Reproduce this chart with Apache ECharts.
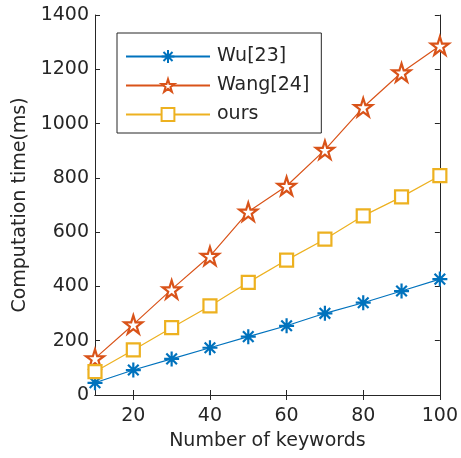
<!DOCTYPE html>
<html><head><meta charset="utf-8">
<script src="https://cdn.jsdelivr.net/npm/echarts@6/dist/echarts.min.js"></script>
<style>html,body{margin:0;padding:0;background:#fff}#c{width:461px;height:458px}</style>
</head><body><div id="c"></div>
<script>
const keywords = [10,20,30,40,50,60,70,80,90,100];
const wu   = [45,92,133,174,215,255,301,340,383,427];
const wang = [135,260,389,512,675,770,903,1060,1188,1287];
const ours = [86,166,248,328,415,497,574,660,730,808];
const xTicks = [20,40,60,80,100];
const yTicks = [0,200,400,600,800,1000,1200,1400];

const FONT = 'DejaVu Sans, Liberation Sans, sans-serif';
const AX = '#262626';
const STAR = 'path://M0,-1L0.2245,-0.309L0.951,-0.309L0.3633,0.118L0.5878,0.809L0,0.382L-0.5878,0.809L-0.3633,0.118L-0.951,-0.309L-0.2245,-0.309Z';
const AST = 'path://M0,-1L0,1M-1,0L1,0M-0.7071,-0.7071L0.7071,0.7071M-0.7071,0.7071L0.7071,-0.7071';

function pair(a){ return keywords.map((k,i)=>[k,a[i]]); }

const chart = echarts.init(document.getElementById('c'), null, {renderer:'canvas'});
const hiddenX = {type:'value',min:10,max:100,position:'top',
  axisLine:{show:true,lineStyle:{color:AX,width:1}},
  axisTick:{show:true,inside:true,length:5,customValues:xTicks,lineStyle:{color:AX}},
  axisLabel:{show:false},splitLine:{show:false}};
const hiddenY = {type:'value',min:0,max:1400,interval:200,position:'right',
  axisLine:{show:true,lineStyle:{color:AX,width:1}},
  axisTick:{show:true,inside:true,length:5,lineStyle:{color:AX}},
  axisLabel:{show:false},splitLine:{show:false}};
chart.setOption({
  animation:false,
  textStyle:{fontFamily:FONT},
  grid:{left:95,right:19,top:15,bottom:63,containLabel:false},
  legend:{
    left:117, top:33, orient:'vertical',
    padding:[14,12,9,8],
    backgroundColor:'#fff', borderColor:AX, borderWidth:1,
    itemWidth:84, itemHeight:16, itemGap:10,
    textStyle:{fontFamily:FONT,fontSize:19,color:AX,padding:[0,0,0,2]},
    data:['Wu[23]','Wang[24]','ours']
  },
  xAxis:[{
    type:'value',min:10,max:100,
    name:'Number of keywords',nameLocation:'middle',nameGap:37,
    nameTextStyle:{fontSize:19,color:AX,fontFamily:FONT},
    axisLine:{show:true,onZero:false,lineStyle:{color:AX,width:1}},
    axisTick:{show:true,inside:true,length:5,customValues:xTicks,lineStyle:{color:AX}},
    axisLabel:{customValues:xTicks,fontSize:19,color:AX,margin:12,fontFamily:FONT,formatter:v=>String(v)},
    splitLine:{show:false}
  }, hiddenX],
  yAxis:[{
    type:'value',min:0,max:1400,interval:200,
    name:'Computation time(ms)',nameLocation:'middle',nameGap:57,nameRotate:90,
    nameTextStyle:{fontSize:19,color:AX,fontFamily:FONT},
    axisLine:{show:true,onZero:false,lineStyle:{color:AX,width:1}},
    axisTick:{show:true,inside:true,length:5,lineStyle:{color:AX}},
    axisLabel:{fontSize:19,color:AX,margin:6,fontFamily:FONT,customValues:yTicks,formatter:v=>String(v)},
    splitLine:{show:false}
  }, hiddenY],
  series:[
    {name:'Wu[23]',type:'line',data:pair(wu),symbol:AST,symbolSize:15,
     lineStyle:{color:'#0072BD',width:1.2},
     itemStyle:{color:'#0072BD',borderColor:'#0072BD',borderWidth:2.2}},
    {name:'Wang[24]',type:'line',data:pair(wang),symbol:STAR,symbolSize:18,
     lineStyle:{color:'#D95319',width:1.2},
     itemStyle:{color:'#fff',borderColor:'#D95319',borderWidth:2.2}},
    {name:'ours',type:'line',data:pair(ours),symbol:'rect',symbolSize:13,
     lineStyle:{color:'#EDB120',width:1.2},
     itemStyle:{color:'#fff',borderColor:'#EDB120',borderWidth:2.2}}
  ]
});
</script></body></html>
